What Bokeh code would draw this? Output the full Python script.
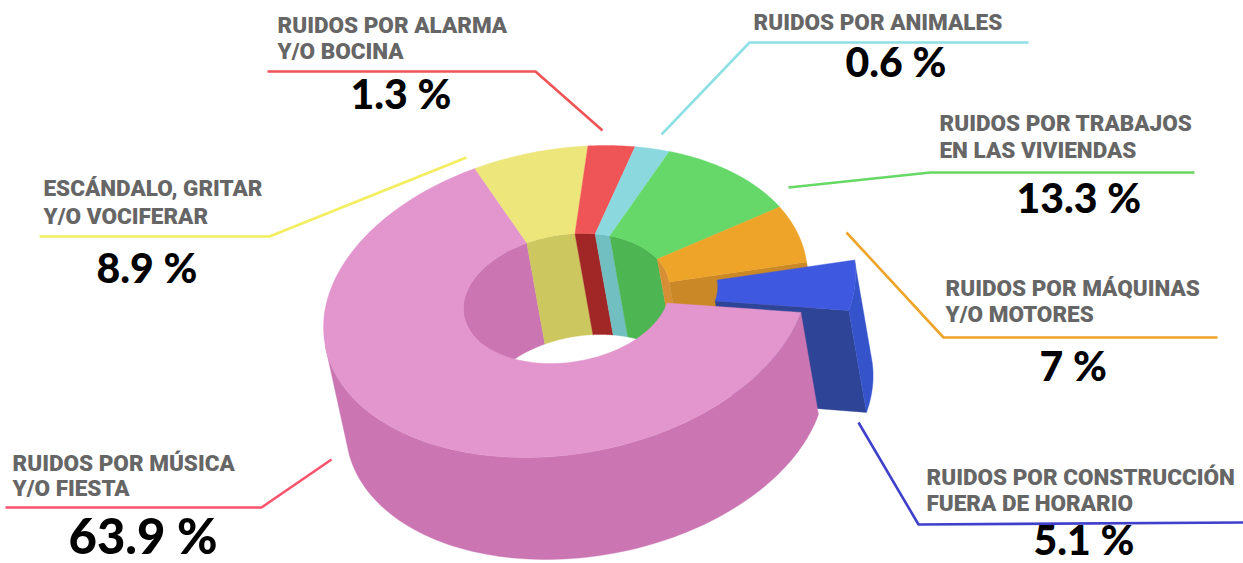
import math
from bokeh.plotting import figure
from bokeh.embed import file_html
from bokeh.resources import INLINE
from bokeh.core.properties import value

# ---- data ----
categories = ["MUSICA", "ESCANDALO", "ALARMA", "ANIMALES", "TRABAJOS", "MAQUINAS", "CONSTRUCCION"]
printed_percent = ["63.9 %", "8.9 %", "1.3 %", "0.6 %", "13.3 %", "7 %", "5.1 %"]
# the drawn slices are not proportional to the printed numbers: angular share as drawn (degrees)
slice_degrees = [234.5, 27.3, 11.4, 8.7, 36.8, 22.6, 18.7]
start_degree = 94.0

top_colors = ["#e396cd", "#ede67b", "#ef5456", "#8bd9de", "#65d869", "#eea429", "#3f58e0"]
wall_colors = ["#cb76b3", "#ccc75f", "#a12727", "#72bfc2", "#4db552", "#d68f35", "#3554cc"]
orange_end_color = "#cb8826"
blue_end_color = "#2e4496"

label_lines = [["RUIDOS POR MÚSICA", "Y/O FIESTA"], ["ESCÁNDALO, GRITAR", "Y/O VOCIFERAR"],
               ["RUIDOS POR ALARMA", "Y/O BOCINA"], ["RUIDOS POR ANIMALES"],
               ["RUIDOS POR TRABAJOS", "EN LAS VIVIENDAS"], ["RUIDOS POR MÁQUINAS", "Y/O MOTORES"],
               ["RUIDOS POR CONSTRUCCIÓN", "FUERA DE HORARIO"]]

# ---- layout ----
label_pos = [[(12, 471), (12, 496)], [(43, 196), (43, 224)], [(277, 33), (277, 59)], [(753, 30)],
             [(939, 131), (939, 158)], [(945, 296), (945, 322)], [(926, 485), (926, 511)]]
pct_pos = [(68, 555, 49), (96, 284, 41), (350, 110, 41), (845, 78, 41), (1016, 214, 41), (1039, 382, 41), (1033, 556, 41)]
leader_colors = ["#f9536e", "#f2ee5f", "#ef5456", "#8fe0e4", "#66d964", "#eea429", "#4040cc"]
leaders = [[(5, 507), (261, 507), (331, 459)], [(39, 236), (269, 236), (466, 157)],
           [(267, 71), (535, 71), (602, 130)], [(1028, 42), (749, 42), (661, 134)],
           [(1194, 172), (930, 172), (788, 187)], [(1217, 337), (943, 337), (846, 232)],
           [(1243, 522), (918, 524), (858, 422)]]
LABEL_SHIFT = 0.40   # the text glyph sits this many em lower than asked
PCT_SHIFT = 0.415
LABEL_SIZE = 22.5

OUT = dict(cx=565, cy=301, rx=238.7, sx=40, ry=156)
INN = dict(cx=566, cy=298, rx=102, sx=16, ry=65)
OUT_B = dict(cx=585, cy=403, rx=238.7 * .99, sx=40 * .99, ry=156)
INN_B = dict(cx=584, cy=399, rx=102, sx=16, ry=65)
EXPLODE = (48, -2)


def pt(e, deg, off=(0, 0)):
    t = math.radians(deg)
    u, v = math.sin(t), math.cos(t)
    return (e["cx"] + e["rx"] * u + e["sx"] * v + off[0], e["cy"] - e["ry"] * v + off[1])


def arc(e, a, b, off=(0, 0), n=90):
    return [pt(e, a + (b - a) * i / n, off) for i in range(n + 1)]


def ribbon(e1, e2, a, b, off=(0, 0)):
    return arc(e1, a, b, off) + arc(e2, b, a, off)


def radial(a, off=(0, 0)):
    return [pt(OUT, a, off), pt(INN, a, off), pt(INN_B, a, off), pt(OUT_B, a, off)]


p = figure(width=1243, height=563, x_range=(0, 1243), y_range=(563, 0),
           output_backend="svg", toolbar_location=None, min_border=0)
p.axis.visible = False
p.grid.visible = False
p.outline_line_color = None
p.background_fill_color = "white"


def fill(poly, color):
    p.patch([q[0] for q in poly], [q[1] for q in poly], fill_color=color,
            line_color=color, line_width=0.4)


# slice boundaries from the shares
bounds = [start_degree]
for d in slice_degrees[:-1]:
    bounds.append(bounds[-1] + d)
bounds.append(bounds[-1] + slice_degrees[-1])
spans = list(zip(bounds[:-1], bounds[1:]))

# inner walls (far side of the hole)
pink_a, pink_b = spans[0]
fill(ribbon(INN, INN_B, pink_b - 95, pink_b), wall_colors[0])
for i in range(1, 6):
    fill(ribbon(INN, INN_B, spans[i][0], spans[i][1]), wall_colors[i])

# end faces left open by the pulled-out slice
fill(radial(spans[5][1]), orange_end_color)
fill(radial(spans[6][1], EXPLODE), blue_end_color)

# outer wall of the large slice, up to its left silhouette
dx, dy = OUT_B["cx"] - OUT["cx"], OUT_B["cy"] - OUT["cy"]
cands = [pink_a + k * 0.5 for k in range(int((pink_b - pink_a) * 2))]
t_tan = min(cands, key=lambda a: pt(OUT, a)[0] * dy - pt(OUT, a)[1] * dx)
fill(ribbon(OUT, OUT_B, pink_a, t_tan), wall_colors[0])

# top faces
for i in range(6):
    a, b = spans[i]
    fill(arc(OUT, a, b) + arc(INN, b, a), top_colors[i])

# pulled-out slice
a, b = spans[6]
fill(ribbon(OUT, OUT_B, a % 360, a % 360 + slice_degrees[6], EXPLODE), wall_colors[6])
fill(arc(OUT, a, b, EXPLODE) + arc(INN, b, a, EXPLODE), top_colors[6])

# leaders
for pts, c in zip(leaders, leader_colors):
    p.line([q[0] for q in pts], [q[1] for q in pts], line_color=c, line_width=2.6)

# labels
for lines, poss in zip(label_lines, label_pos):
    for s, (x, y) in zip(lines, poss):
        p.text([x], [y - LABEL_SHIFT * LABEL_SIZE], text=[s], text_font=value("Roboto Black"),
               text_font_style="normal", text_font_size=f"{LABEL_SIZE}px", text_color="#666666",
               text_baseline="alphabetic")
for s, (x, y, size) in zip(printed_percent, pct_pos):
    p.text([x], [y - PCT_SHIFT * size], text=[s], text_font=value("Lato Black"),
           text_font_style="normal", text_font_size=f"{size}px", text_color="#000000",
           text_baseline="alphabetic")

open("out.html", "w").write(file_html(p, INLINE))
